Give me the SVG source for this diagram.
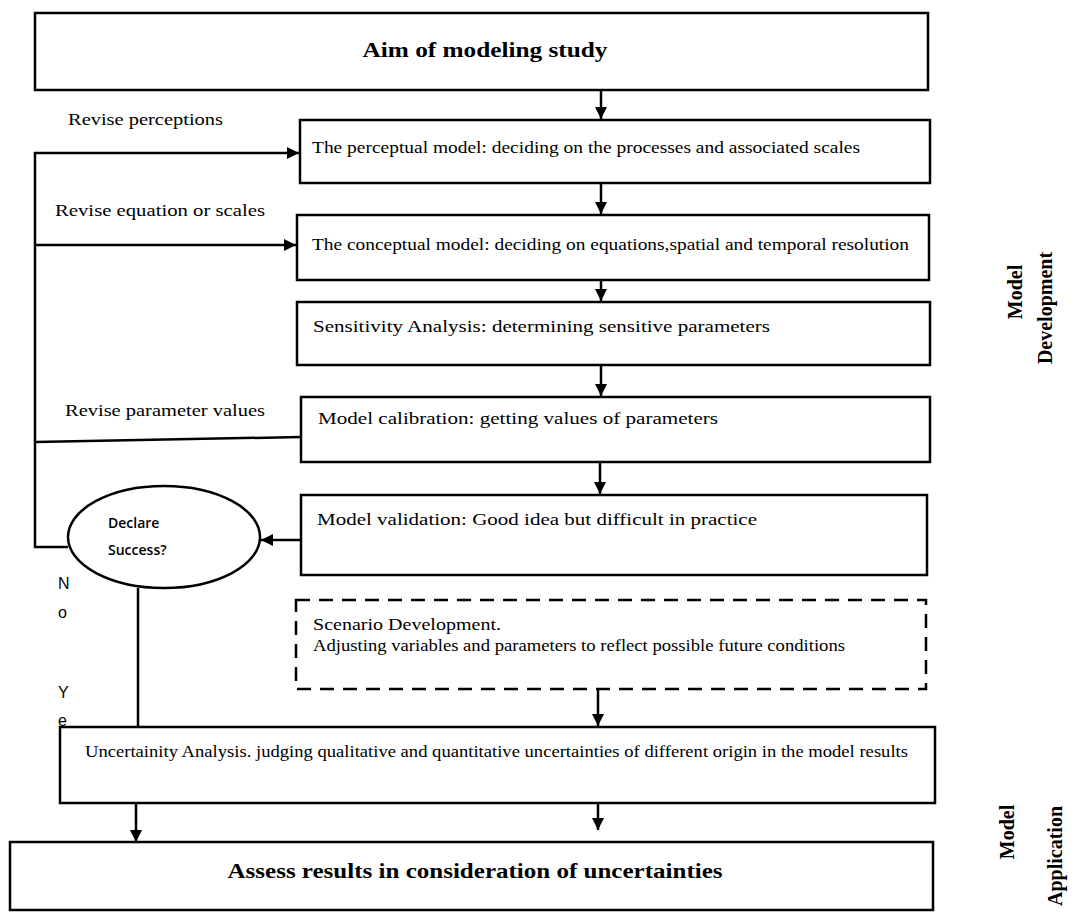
<svg xmlns="http://www.w3.org/2000/svg" width="1074" height="914" viewBox="0 0 1074 914">
<style>
.box{fill:#fff;stroke:#000;stroke-width:2.5}
.dash{fill:none;stroke:#000;stroke-width:2.5;stroke-dasharray:14 9}
.t{font-family:"Liberation Serif",serif;font-size:17px;fill:#000}
.tb{font-family:"Liberation Serif",serif;font-size:21px;font-weight:bold;fill:#000}
.side{font-family:"Liberation Serif",serif;font-size:20px;font-weight:bold;fill:#000}
.s{font-family:"Open Sans","Liberation Sans",sans-serif;font-size:14px;font-weight:600;fill:#000}
.yn{font-family:"Liberation Sans",sans-serif;font-size:16px;fill:#000}
.ln{fill:none;stroke:#000;stroke-width:2.5}
</style>
<defs>
<marker id="ah" viewBox="0 0 10 10" refX="10" refY="5" markerWidth="12" markerHeight="12" markerUnits="userSpaceOnUse" orient="auto">
<path d="M0,0 L10,5 L0,10 Z" fill="#000"/>
</marker>
</defs>
<rect width="1074" height="914" fill="#fff"/>
<g id="connectors">
<line class="ln" x1="601" y1="90" x2="601" y2="119" marker-end="url(#ah)"/>
<line class="ln" x1="601" y1="183" x2="601" y2="214" marker-end="url(#ah)"/>
<line class="ln" x1="601" y1="280" x2="601" y2="301" marker-end="url(#ah)"/>
<line class="ln" x1="601" y1="365" x2="601" y2="396" marker-end="url(#ah)"/>
<line class="ln" x1="600" y1="462" x2="600" y2="494" marker-end="url(#ah)"/>
<line class="ln" x1="598" y1="690" x2="598" y2="726" marker-end="url(#ah)"/>
<line class="ln" x1="136" y1="803" x2="136" y2="842" marker-end="url(#ah)"/>
<line class="ln" x1="598" y1="803" x2="598" y2="830" marker-end="url(#ah)"/>
<polyline class="ln" points="68,547 35,547 35,153 299,153" marker-end="url(#ah)"/>
<line class="ln" x1="35" y1="245" x2="296" y2="245" marker-end="url(#ah)"/>
<line class="ln" x1="301" y1="437" x2="35" y2="442"/>
<line class="ln" x1="301" y1="540" x2="261" y2="540" marker-end="url(#ah)"/>
<line class="ln" x1="138" y1="588" x2="138" y2="727"/>
</g>
<g id="aim">
<rect class="box" x="35" y="13" width="893" height="77"/>
<text class="tb" x="485" y="57" text-anchor="middle" textLength="245" lengthAdjust="spacingAndGlyphs">Aim of modeling study</text>
</g>
<g id="perceptual">
<rect class="box" x="300" y="120" width="630" height="63"/>
<text class="t" x="312" y="153" textLength="548" lengthAdjust="spacingAndGlyphs">The perceptual model: deciding on the processes and associated scales</text>
</g>
<g id="conceptual">
<rect class="box" x="297" y="215" width="632" height="65"/>
<text class="t" x="312" y="250" textLength="597" lengthAdjust="spacingAndGlyphs">The conceptual model: deciding on equations,spatial and temporal resolution</text>
</g>
<g id="sensitivity">
<rect class="box" x="297" y="302" width="633" height="63"/>
<text class="t" x="313" y="332" textLength="457" lengthAdjust="spacingAndGlyphs">Sensitivity Analysis: determining sensitive parameters</text>
</g>
<g id="calibration">
<rect class="box" x="301" y="397" width="629" height="65"/>
<text class="t" x="318" y="424" textLength="400" lengthAdjust="spacingAndGlyphs">Model calibration: getting values of parameters</text>
</g>
<g id="validation">
<rect class="box" x="301" y="495" width="626" height="80"/>
<text class="t" x="317" y="525" textLength="440" lengthAdjust="spacingAndGlyphs">Model validation: Good idea but difficult in practice</text>
</g>
<g id="decision">
<ellipse cx="164" cy="537" rx="96" ry="51" fill="#fff" stroke="#000" stroke-width="2.5"/>
<text class="s" x="108" y="528">Declare</text>
<text class="s" x="108" y="555">Success?</text>
</g>
<g id="scenario">
<rect class="dash" x="296" y="600" width="630" height="89"/>
<text class="t" x="313" y="630" textLength="188" lengthAdjust="spacingAndGlyphs">Scenario Development.</text>
<text class="t" x="313" y="651" font-size="15" textLength="532" lengthAdjust="spacingAndGlyphs">Adjusting variables and parameters to reflect possible future conditions</text>
</g>
<g id="uncertainty">
<rect class="box" x="60" y="727" width="875" height="76"/>
<text class="t" x="85" y="757" font-size="15.5" textLength="823" lengthAdjust="spacingAndGlyphs">Uncertainity Analysis. judging qualitative and quantitative uncertainties of different origin in the model results</text>
</g>
<g id="assess">
<rect class="box" x="10" y="842" width="923" height="68"/>
<text class="tb" x="475" y="878" text-anchor="middle" textLength="495" lengthAdjust="spacingAndGlyphs">Assess results in consideration of uncertainties</text>
</g>
<g id="labels">
<text class="t" x="68" y="125" textLength="155" lengthAdjust="spacingAndGlyphs">Revise perceptions</text>
<text class="t" x="55" y="216" textLength="210" lengthAdjust="spacingAndGlyphs">Revise equation or scales</text>
<text class="t" x="65" y="416" textLength="200" lengthAdjust="spacingAndGlyphs">Revise parameter values</text>
<text class="yn" x="58" y="589">N</text>
<text class="yn" x="58" y="618">o</text>
<text class="yn" x="58" y="698">Y</text>
<text class="yn" x="58" y="726">e</text>
<text class="side" transform="translate(1022,292) rotate(-90)" text-anchor="middle">Model</text>
<text class="side" transform="translate(1052,308) rotate(-90)" text-anchor="middle">Development</text>
<text class="side" transform="translate(1014,832) rotate(-90)" text-anchor="middle">Model</text>
<text class="side" transform="translate(1062,856) rotate(-90)" text-anchor="middle">Application</text>
</g>
</svg>
